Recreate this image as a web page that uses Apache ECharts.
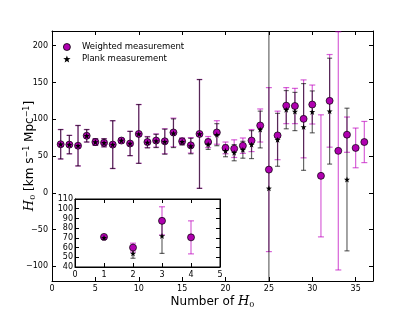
<!DOCTYPE html>
<html><head><meta charset="utf-8">
<script src="https://cdn.jsdelivr.net/npm/echarts@6/dist/echarts.min.js"></script>
<style>html,body{margin:0;padding:0;background:#fff}#c{width:415px;height:313px}</style>
</head><body><div id="c"></div>
<script>
const xs = [1,2,3,4,5,6,7,8,9,10,11,12,13,14,15,16,17,18,19,20,21,22,23,24,25,26,27,28,29,30,31,32,33,34,35,36];
const weighted    = [66,65.5,64,77.5,69,68,65.5,71,67,80,69,71,70,82,70,64.5,80,69,82,61,60,64,71,91.5,31.5,78,118.5,118,100.5,120,23,125,57,79,61,69];
const weightedErr = [20,12.5,27.5,8.5,4.5,5.5,32.5,3,16.5,40,7.5,9,17,19.5,4.5,10.5,74,7.5,16,8,12,10.5,15,22.5,111.5,33,24.5,24,53,26.5,83,63,162,24,27,28];
const plank       = [66,65.5,64,77.5,69,68,65.5,71,67,80,68.5,70.5,69.5,81,69.5,63.5,80,66,79,57,54.5,58.5,65.5,86,6,72,113,110.5,89.5,110,null,111,null,18,null,null];
const plankErr    = [20,12.5,27.5,8.5,4.5,5.5,32.5,3,16.5,40,7.5,9,17,19.5,4.5,10.5,74,7,15,8,11,11.5,19,25,260,36,26,26,59,28.5,null,72,null,97,null,null];

const insetXs = [1,2,3,4];
const insetWeighted    = [71,60,87.5,70.5];
const insetWeightedErr = [1.5,4.5,14.5,17];
const insetPlank       = [70,54,72,null];
const insetPlankErr    = [1.5,5,18,null];

const xTicks = [0,5,10,15,20,25,30,35];
const yTicks = [-100,-50,0,50,100,150,200];

const MAG = 'rgba(191,0,191,0.62)';
const BLK = 'rgba(0,0,0,0.6)';
const STAR = 'path://M0,-10 L2.35,-3.24 L9.51,-3.09 L3.8,1.24 L5.88,8.09 L0,4 L-5.88,8.09 L-3.8,1.24 L-9.51,-3.09 L-2.35,-3.24 Z';
const FONT = 'DejaVu Sans';

function pts(x, v) { const o=[]; x.forEach((xx,i)=>{ if (v[i]!=null) o.push([xx, v[i]]); }); return o; }
function bars(x, v, e) { const o=[]; x.forEach((xx,i)=>{ if (v[i]!=null) o.push([xx, v[i]-e[i], v[i]+e[i]]); }); return o; }

function errRender(color, capHalf) {
  return function(params, api) {
    const x = api.value(0), lo = api.value(1), hi = api.value(2);
    const cs = params.coordSys;
    const a = api.coord([x, hi]), b = api.coord([x, lo]);
    const top = Math.max(a[1], cs.y), bot = Math.min(b[1], cs.y + cs.height);
    const st = {stroke: color, lineWidth: 1.2};
    const ch = [{type:'line', shape:{x1:a[0], y1:top, x2:a[0], y2:bot}, style: st}];
    if (a[1] >= cs.y) ch.push({type:'line', shape:{x1:a[0]-capHalf, y1:a[1], x2:a[0]+capHalf, y2:a[1]}, style: st});
    if (b[1] <= cs.y + cs.height) ch.push({type:'line', shape:{x1:b[0]-capHalf, y1:b[1], x2:b[0]+capHalf, y2:b[1]}, style: st});
    return {type:'group', children: ch};
  };
}

const minus = v => String(v).replace('-', '\u2212');
const tickStyle = {show:true, inside:true, length:4, lineStyle:{color:'#000', width:1}};
const lineStyle = {show:true, onZero:false, lineStyle:{color:'#000', width:1}};
const labelBase = {color:'#000', fontSize:8, fontFamily:FONT};

const chart = echarts.init(document.getElementById('c'), null, {renderer:'canvas'});
chart.setOption({
  animation: false,
  backgroundColor: '#fff',
  grid: [
    {left:52, top:31, width:321, height:250, containLabel:false, outerBoundsMode:'none'},
    {left:75, top:199, width:145, height:68, show:true, backgroundColor:'#fff', borderWidth:1, borderColor:'#000', z:5, containLabel:false, outerBoundsMode:'none'}
  ],
  legend: {
    left: 58, top: 37, orient: 'vertical', itemWidth: 20, itemHeight: 7, itemGap: 2,
    textStyle: {fontSize: 8.5, fontFamily: FONT, color: '#000', lineHeight: 10},
    data: [
      {name:'Weighted measurement', icon:'circle', itemStyle:{color:'#b000b0', borderColor:'#000', borderWidth:0.8}},
      {name:'Plank measurement', icon:STAR, itemStyle:{color:'#000'}}
    ]
  },
  xAxis: [
    {gridIndex:0, type:'value', min:0, max:37, position:'bottom', axisLine:lineStyle,
     axisTick:Object.assign({customValues:xTicks}, tickStyle),
     axisLabel:Object.assign({customValues:xTicks, margin:4}, labelBase), splitLine:{show:false},
     name:'{n|Number of }{h|H}{s|0}', nameLocation:'middle', nameGap:14, nameMoveOverlap:false,
     nameTextStyle:{color:'#000', fontSize:12, fontFamily:FONT,
       rich:{n:{fontSize:12, fontFamily:FONT, color:'#000'}, h:{fontSize:13, fontFamily:'DejaVu Serif', fontStyle:'italic', color:'#000'}, s:{fontSize:8, fontFamily:'DejaVu Serif', color:'#000', padding:[6,0,0,0]}}}},
    {gridIndex:0, type:'value', min:0, max:37, position:'top', axisLine:lineStyle,
     axisTick:Object.assign({customValues:xTicks}, tickStyle), axisLabel:{show:false}, splitLine:{show:false}},
    {gridIndex:1, type:'value', min:0, max:5, interval:1, position:'bottom', axisLine:lineStyle, z:6,
     axisTick:tickStyle, axisLabel:Object.assign({margin:4}, labelBase), splitLine:{show:false}},
    {gridIndex:1, type:'value', min:0, max:5, interval:1, position:'top', axisLine:lineStyle, z:6,
     axisTick:tickStyle, axisLabel:{show:false}, splitLine:{show:false}}
  ],
  yAxis: [
    {gridIndex:0, type:'value', min:-120, max:220, position:'left', axisLine:lineStyle,
     axisTick:Object.assign({customValues:yTicks}, tickStyle),
     axisLabel:Object.assign({customValues:yTicks, margin:4, formatter:minus}, labelBase), splitLine:{show:false},
     name:'{h|H}{s|0}{n| [km s}{p|\u22121}{n| Mpc}{p|\u22121}{n|]}', nameLocation:'middle', nameGap:15, nameRotate:90, nameMoveOverlap:false,
     nameTextStyle:{color:'#000', fontSize:12, fontFamily:FONT,
       rich:{n:{fontSize:12, fontFamily:FONT, color:'#000'}, h:{fontSize:13, fontFamily:'DejaVu Serif', fontStyle:'italic', color:'#000'},
             s:{fontSize:8, fontFamily:'DejaVu Serif', color:'#000', padding:[6,0,0,0]}, p:{fontSize:8, fontFamily:FONT, color:'#000', padding:[0,0,6,0]}}}},
    {gridIndex:0, type:'value', min:-120, max:220, position:'right', axisLine:lineStyle,
     axisTick:Object.assign({customValues:yTicks}, tickStyle), axisLabel:{show:false}, splitLine:{show:false}},
    {gridIndex:1, type:'value', min:40, max:110, interval:10, position:'left', axisLine:lineStyle, z:6,
     axisTick:tickStyle, axisLabel:Object.assign({margin:2}, labelBase), splitLine:{show:false}},
    {gridIndex:1, type:'value', min:40, max:110, interval:10, position:'right', axisLine:lineStyle, z:6,
     axisTick:tickStyle, axisLabel:{show:false}, splitLine:{show:false}}
  ],
  series: [
    {type:'custom', name:'werr', xAxisIndex:0, yAxisIndex:0, renderItem:errRender(MAG, 3), data:bars(xs, weighted, weightedErr), encode:{x:0, y:[1,2]}, z:2, silent:true},
    {type:'custom', name:'perr', xAxisIndex:0, yAxisIndex:0, renderItem:errRender(BLK, 2.5), data:bars(xs, plank, plankErr), encode:{x:0, y:[1,2]}, z:2, silent:true},
    {type:'scatter', name:'Weighted measurement', xAxisIndex:0, yAxisIndex:0, data:pts(xs, weighted), symbol:'circle', symbolSize:7,
     itemStyle:{color:'#b000b0', borderColor:'#000', borderWidth:0.7, opacity:1}, z:3},
    {type:'scatter', name:'Plank measurement', xAxisIndex:0, yAxisIndex:0, data:pts(xs, plank), symbol:STAR, symbolSize:6,
     itemStyle:{color:'#000', opacity:1}, z:4},
    {type:'custom', xAxisIndex:2, yAxisIndex:2, renderItem:errRender(MAG, 3), data:bars(insetXs, insetWeighted, insetWeightedErr), encode:{x:0, y:[1,2]}, z:7, silent:true},
    {type:'custom', xAxisIndex:2, yAxisIndex:2, renderItem:errRender(BLK, 2.5), data:bars(insetXs, insetPlank, insetPlankErr), encode:{x:0, y:[1,2]}, z:7, silent:true},
    {type:'scatter', name:'Weighted measurement', xAxisIndex:2, yAxisIndex:2, data:pts(insetXs, insetWeighted), symbol:'circle', symbolSize:7,
     itemStyle:{color:'#b000b0', borderColor:'#000', borderWidth:0.7, opacity:1}, z:8},
    {type:'scatter', name:'Plank measurement', xAxisIndex:2, yAxisIndex:2, data:pts(insetXs, insetPlank), symbol:STAR, symbolSize:6,
     itemStyle:{color:'#000', opacity:1}, z:9}
  ]
});
</script></body></html>
